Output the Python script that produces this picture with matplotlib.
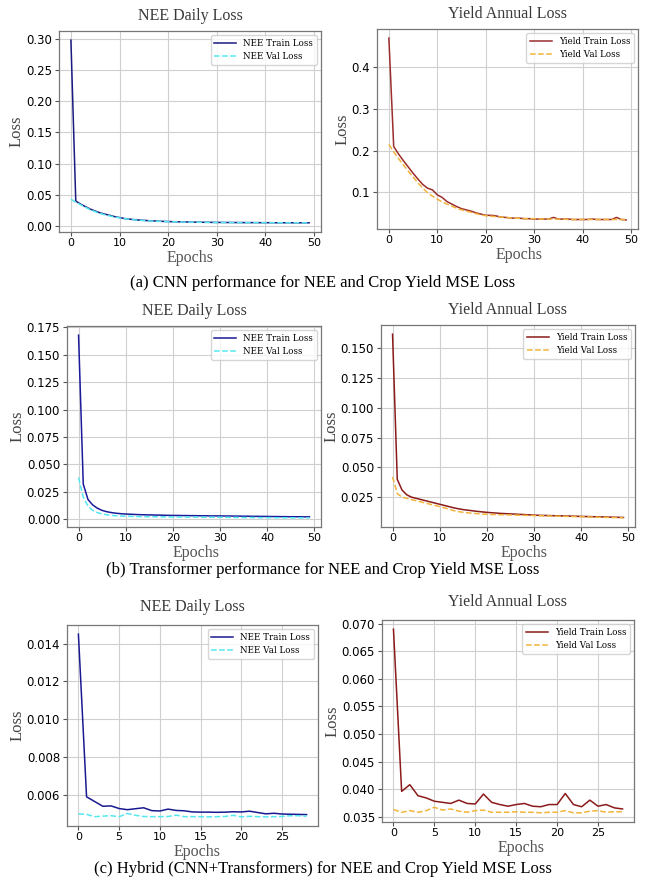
import matplotlib
matplotlib.use("Agg")
import matplotlib.pyplot as plt

# Data
epochs50 = list(range(50))
epochs29 = list(range(29))

# (a) CNN
cnn_nee_train = [0.298, 0.040, 0.035, 0.031, 0.027, 0.024, 0.021, 0.019, 0.017, 0.015,
                 0.0135, 0.012, 0.011, 0.0102, 0.0095, 0.009, 0.0085, 0.0081, 0.0077, 0.0074,
                 0.0071, 0.0069, 0.0067, 0.0065, 0.0064, 0.0062, 0.0061, 0.006, 0.0059, 0.0058,
                 0.0057, 0.0057, 0.0056, 0.0056, 0.0055, 0.0055, 0.0054, 0.0054, 0.0054, 0.0053,
                 0.0053, 0.0053, 0.0052, 0.0052, 0.0052, 0.0052, 0.0051, 0.0051, 0.0051, 0.0051]
cnn_nee_val = [0.043, 0.038, 0.034, 0.030, 0.026, 0.023, 0.020, 0.018, 0.016, 0.0145,
               0.013, 0.0118, 0.0108, 0.0099, 0.0092, 0.0087, 0.0082, 0.0078, 0.0075, 0.0072,
               0.0069, 0.0067, 0.0065, 0.0063, 0.0062, 0.0061, 0.006, 0.0059, 0.0058, 0.0057,
               0.0056, 0.0056, 0.0055, 0.0055, 0.0054, 0.0054, 0.0054, 0.0053, 0.0053, 0.0053,
               0.0052, 0.0052, 0.0052, 0.0052, 0.0051, 0.0051, 0.0051, 0.0051, 0.005, 0.005]
cnn_yield_train = [0.470, 0.210, 0.192, 0.176, 0.161, 0.146, 0.132, 0.119, 0.110, 0.106,
                   0.094, 0.088, 0.078, 0.072, 0.066, 0.061, 0.058, 0.055, 0.051, 0.048,
                   0.045, 0.045, 0.044, 0.041, 0.040, 0.039, 0.038, 0.038, 0.037, 0.037,
                   0.036, 0.036, 0.036, 0.036, 0.040, 0.036, 0.036, 0.036, 0.035, 0.035,
                   0.035, 0.035, 0.036, 0.035, 0.035, 0.035, 0.035, 0.040, 0.035, 0.034]
cnn_yield_val = [0.215, 0.197, 0.181, 0.166, 0.151, 0.137, 0.123, 0.110, 0.099, 0.091,
                 0.084, 0.077, 0.072, 0.067, 0.062, 0.058, 0.055, 0.052, 0.049, 0.046,
                 0.044, 0.043, 0.042, 0.041, 0.040, 0.039, 0.038, 0.038, 0.037, 0.037,
                 0.037, 0.036, 0.036, 0.036, 0.036, 0.036, 0.036, 0.035, 0.035, 0.035,
                 0.035, 0.035, 0.035, 0.035, 0.035, 0.035, 0.035, 0.035, 0.035, 0.035]

# (b) Transformer
tr_nee_train = [0.168, 0.032, 0.018, 0.013, 0.010, 0.008, 0.0068, 0.006, 0.0054, 0.005,
                0.0047, 0.0045, 0.0043, 0.0041, 0.004, 0.0039, 0.0038, 0.0037, 0.0036, 0.0035,
                0.0034, 0.0034, 0.0033, 0.0033, 0.0032, 0.0032, 0.0031, 0.0031, 0.003, 0.003,
                0.003, 0.0029, 0.0029, 0.0028, 0.0028, 0.0027, 0.0027, 0.0026, 0.0026, 0.0025,
                0.0025, 0.0024, 0.0024, 0.0023, 0.0023, 0.0022, 0.0022, 0.0022, 0.0021, 0.0021]
tr_nee_val = [0.038, 0.020, 0.012, 0.008, 0.006, 0.0048, 0.004, 0.0035, 0.0031, 0.0029,
              0.0027, 0.0026, 0.0025, 0.0024, 0.0023, 0.0023, 0.0022, 0.0022, 0.0021, 0.0021,
              0.002, 0.002, 0.002, 0.0019, 0.0019, 0.0019, 0.0018, 0.0018, 0.0018, 0.0017,
              0.0017, 0.0017, 0.0016, 0.0016, 0.0016, 0.0015, 0.0015, 0.0015, 0.0014, 0.0014,
              0.0014, 0.0014, 0.0013, 0.0013, 0.0013, 0.0013, 0.0012, 0.0012, 0.0012, 0.0012]
tr_yield_train = [0.162, 0.040, 0.031, 0.027, 0.025, 0.024, 0.023, 0.022, 0.021, 0.020,
                  0.019, 0.018, 0.017, 0.016, 0.0152, 0.0145, 0.014, 0.0135, 0.013, 0.0126,
                  0.0122, 0.0119, 0.0116, 0.0113, 0.0111, 0.0109, 0.0107, 0.0105, 0.0103, 0.0101,
                  0.0099, 0.0097, 0.0096, 0.0095, 0.0094, 0.0093, 0.0092, 0.0091, 0.009, 0.0089,
                  0.0088, 0.0087, 0.0086, 0.0085, 0.0084, 0.0083, 0.0082, 0.0081, 0.008, 0.0079]
tr_yield_val = [0.042, 0.028, 0.025, 0.024, 0.023, 0.022, 0.021, 0.020, 0.019, 0.018,
                0.017, 0.016, 0.0148, 0.0136, 0.0128, 0.0122, 0.0118, 0.0114, 0.0111, 0.0108,
                0.0106, 0.0104, 0.0103, 0.0102, 0.0101, 0.01, 0.0099, 0.0098, 0.0097, 0.0096,
                0.0095, 0.0094, 0.0093, 0.0092, 0.0091, 0.009, 0.0089, 0.0088, 0.0087, 0.0086,
                0.0085, 0.0084, 0.0083, 0.0082, 0.0081, 0.008, 0.0079, 0.0078, 0.0077, 0.0076]

# (c) Hybrid
hy_nee_train = [0.0145, 0.0059, 0.00565, 0.0054, 0.00542, 0.00528, 0.00522, 0.00527, 0.00532, 0.00517,
                0.00515, 0.00525, 0.00518, 0.00516, 0.0051, 0.00509, 0.00509, 0.00508, 0.00509, 0.00511,
                0.0051, 0.00514, 0.00507, 0.005, 0.00503, 0.00499, 0.00498, 0.00497, 0.00496]
hy_nee_val = [0.005, 0.00497, 0.00485, 0.00488, 0.0049, 0.00485, 0.00502, 0.00492, 0.00486, 0.00485,
              0.00485, 0.00486, 0.00493, 0.00485, 0.00485, 0.00485, 0.00484, 0.00485, 0.00486, 0.00492,
              0.00484, 0.00487, 0.00485, 0.00484, 0.00485, 0.00486, 0.0049, 0.0049, 0.00487]
hy_yield_train = [0.0690, 0.0396, 0.0408, 0.0388, 0.0384, 0.0378, 0.0376, 0.0374, 0.0380, 0.0374,
                  0.0373, 0.0391, 0.0376, 0.0372, 0.0369, 0.0372, 0.0374, 0.0369, 0.0368, 0.0372,
                  0.0372, 0.0392, 0.0372, 0.0368, 0.0380, 0.0369, 0.0372, 0.0366, 0.0364]
hy_yield_val = [0.0363, 0.0358, 0.0361, 0.0358, 0.0361, 0.0367, 0.0362, 0.0364, 0.0360, 0.0358,
                0.0361, 0.0362, 0.0358, 0.0358, 0.0358, 0.0359, 0.0358, 0.0358, 0.0357, 0.0358,
                0.0358, 0.0361, 0.0357, 0.0357, 0.0360, 0.0361, 0.0358, 0.0359, 0.0359]

captions = ["(a) CNN performance for NEE and Crop Yield MSE Loss",
            "(b) Transformer performance for NEE and Crop Yield MSE Loss",
            "(c) Hybrid (CNN+Transformers) for NEE and Crop Yield MSE Loss"]

SERIF = "Liberation Serif"
W, H = 646, 882


def px_axes(fig, x0, y0, x1, y1):
    return fig.add_axes([x0 / W, 1 - y1 / H, (x1 - x0) / W, (y1 - y0) / H])


def style(ax, title, title_pad=8, xlab_x=0.5):
    ax.set_title(title, family=SERIF, fontsize=11.5, pad=title_pad, color="#3a3a3a")
    ax.set_xlabel("Epochs", family=SERIF, fontsize=11.5, color="#555555")
    ax.xaxis.set_label_coords(xlab_x, -0.088)
    ax.set_ylabel("Loss", family=SERIF, fontsize=12, labelpad=1, color="#444444")
    ax.grid(True, color="#d0d0d0", linewidth=0.8)
    ax.set_axisbelow(True)
    ax.tick_params(axis="x", labelsize=8, length=3, color="#555555", pad=1.5)
    ax.tick_params(axis="y", labelsize=8.5, length=3, color="#555555", pad=2)
    for s in ax.spines.values():
        s.set_color("#777777")
        s.set_linewidth(0.9)
    ax.legend(loc="upper right", prop={"family": "DejaVu Serif", "size": 6.3},
              frameon=True, edgecolor="#cccccc", fancybox=True, handlelength=2.5)


fig = plt.figure(figsize=(W / 100, H / 100), dpi=100)

# Row (a)
ax = px_axes(fig, 59, 31, 321, 232)
ax.plot(epochs50, cnn_nee_train, color="#1a1a80", lw=1.1, label="NEE Train Loss")
ax.plot(epochs50, cnn_nee_val, color="#55e8ef", lw=1.1, ls="--", label="NEE Val Loss")
style(ax, "NEE Daily Loss")
ax.set_xticks([0, 10, 20, 30, 40, 50])

ax = px_axes(fig, 377, 29, 638, 229)
ax.plot(epochs50, cnn_yield_train, color="#9b2d2d", lw=1.1, label="Yield Train Loss")
ax.plot(epochs50, cnn_yield_val, color="#f2b43c", lw=1.1, ls="--", label="Yield Val Loss")
style(ax, "Yield Annual Loss", xlab_x=0.545)
ax.set_xticks([0, 10, 20, 30, 40, 50])
ax.set_yticks([0.1, 0.2, 0.3, 0.4])

# Row (b)
ax = px_axes(fig, 67, 326, 321, 527)
ax.plot(epochs50, tr_nee_train, color="#1a1a9a", lw=1.1, label="NEE Train Loss")
ax.plot(epochs50, tr_nee_val, color="#55e8ef", lw=1.1, ls="--", label="NEE Val Loss")
style(ax, "NEE Daily Loss", xlab_x=0.51)
ax.set_xticks([0, 10, 20, 30, 40, 50])

ax = px_axes(fig, 381, 325, 635, 527)
ax.plot(epochs50, tr_yield_train, color="#8b1a1a", lw=1.1, label="Yield Train Loss")
ax.plot(epochs50, tr_yield_val, color="#f2b43c", lw=1.1, ls="--", label="Yield Val Loss")
style(ax, "Yield Annual Loss", xlab_x=0.565)
ax.set_xticks([0, 10, 20, 30, 40, 50])
ax.set_yticks([0.025, 0.05, 0.075, 0.1, 0.125, 0.15])

# Row (c)
ax = px_axes(fig, 67, 625, 318, 826)
ax.plot(epochs29, hy_nee_train, color="#1a1a90", lw=1.1, label="NEE Train Loss")
ax.plot(epochs29, hy_nee_val, color="#55e8ef", lw=1.1, ls="--", label="NEE Val Loss")
style(ax, "NEE Daily Loss", title_pad=10, xlab_x=0.52)
ax.set_xticks([0, 5, 10, 15, 20, 25])
ax.set_yticks([0.006, 0.008, 0.010, 0.012, 0.014])

ax = px_axes(fig, 382, 620, 634, 822)
ax.plot(epochs29, hy_yield_train, color="#8b1a1a", lw=1.1, label="Yield Train Loss")
ax.plot(epochs29, hy_yield_val, color="#f2b43c", lw=1.1, ls="--", label="Yield Val Loss")
style(ax, "Yield Annual Loss", title_pad=10, xlab_x=0.55)
ax.set_xticks([0, 5, 10, 15, 20, 25])

# Captions
for y, txt in zip([283, 570, 869], captions):
    fig.text(0.5, 1 - y / H, txt, ha="center", va="center", family=SERIF, fontsize=12)

fig.savefig("out.png", dpi=100)
